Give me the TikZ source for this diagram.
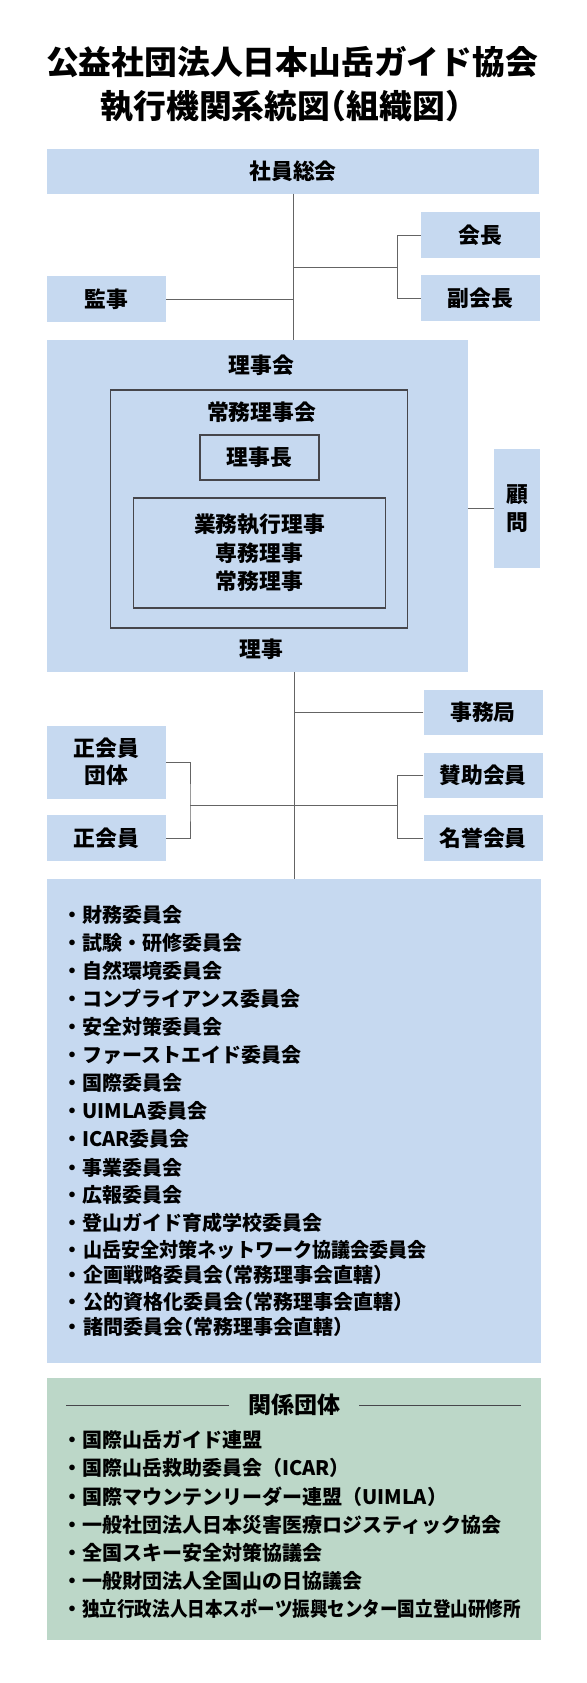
\documentclass[tikz,border=0pt]{standalone}
\usepackage{fontspec}
\usepackage{graphicx}
\setmainfont{Noto Sans CJK JP}
\definecolor{boxblue}{RGB}{198,217,240}
\definecolor{boxgreen}{RGB}{188,215,200}
\definecolor{linegray}{RGB}{100,100,100}
\definecolor{framegray}{RGB}{70,70,75}
\newcommand\myhalt[1]{{\addfontfeature{RawFeature=+halt}#1}}
\newcommand\bulw{・\kern1pt}
\tikzset{
  titletext/.style={inner sep=0pt, font=\fontsize{32.8}{38}\selectfont\bfseries},
  bbox/.style={fill=boxblue, inner sep=0pt, align=center, font=\fontsize{21.8}{28}\selectfont\bfseries},
  gbox/.style={fill=boxgreen, inner sep=0pt},
  framebox/.style={draw=framegray, line width=1.2pt, inner sep=0pt},
  lbl/.style={inner sep=0pt, align=center, font=\fontsize{21.8}{28.5}\selectfont\bfseries},
  conn/.style={draw=linegray, line width=1pt},
  rule/.style={draw=framegray, line width=1pt},
  item/.style={anchor=west, inner sep=0pt, font=\fontsize{20}{22}\selectfont\bfseries},
}
\begin{document}
\begin{tikzpicture}[x=1pt,y=-1pt]
\useasboundingbox[fill=white] (0,0) rectangle (586,1683);

% title
\node[titletext] (t1) at (292,62) {公益社団法人日本山岳ガイド協会};
\node[titletext] (t2) at (281,106) {執行機関系統図\myhalt{（}組織図\myhalt{）}};

% top boxes
\node[bbox, minimum width=492, minimum height=45] (shain) at (293,171) {社員総会};
\node[bbox, minimum width=119, minimum height=46] (kaicho) at (480.5,235) {会長};
\node[bbox, minimum width=119, minimum height=46] (fuku) at (480.5,298) {副会長};
\node[bbox, minimum width=119, minimum height=46] (kanji) at (106.5,299) {監事};

% board
\node[bbox, minimum width=421, minimum height=332] (rijikai) at (257.5,506) {};
\node[lbl] (rijikailbl) at (261.5,365) {理事会};
\node[framebox, minimum width=297.5, minimum height=238] (jomu) at (259,509) {};
\node[lbl] (jomulbl) at (261.5,412) {常務理事会};
\node[framebox, lbl, draw=framegray, minimum width=119, minimum height=45] (rijicho) at (259.5,457.5) {理事長};
\node[framebox, lbl, draw=framegray, minimum width=251.5, minimum height=110] (exec) at (259.5,553) {業務執行理事\\専務理事\\常務理事};
\node[lbl] (rijilbl) at (261.5,649) {理事};
\node[bbox, minimum width=46, minimum height=119] (komon) at (517,508.5) {顧\\問};

% lower boxes
\node[bbox, minimum width=119, minimum height=45] (jimu) at (483,712.5) {事務局};
\node[bbox, minimum width=119, minimum height=73, font=\fontsize{21.8}{27}\selectfont\bfseries] (dantai) at (106.5,762) {正会員\\団体};
\node[bbox, minimum width=119, minimum height=46] (seikai) at (106.5,838) {正会員};
\node[bbox, minimum width=119, minimum height=45] (sanjo) at (483,775.5) {賛助会員};
\node[bbox, minimum width=119, minimum height=46] (meiyo) at (483,838) {名誉会員};

% committees
\node[bbox, minimum width=494, minimum height=484] (comm) at (294,1121) {};
\node[item] (c1) at (62,915) {・財務委員会};
\node[item] (c2) at (62,942.7) {・試験・研修委員会};
\node[item] (c3) at (62,970.7) {・自然環境委員会};
\node[item] (c4) at (62,998.3) {・コンプライアンス委員会};
\node[item] (c5) at (62,1026.7) {・安全対策委員会};
\node[item] (c6) at (62,1055) {・ファーストエイド委員会};
\node[item] (c7) at (62,1083.3) {・国際委員会};
\node[item] (c8) at (62,1111) {・UIMLA委員会};
\node[item] (c9) at (62,1139.3) {・ICAR委員会};
\node[item] (c10) at (62,1167.7) {・事業委員会};
\node[item] (c11) at (62,1195) {・広報委員会};
\node[item] (c12) at (62,1223.3) {・登山ガイド育成学校委員会};
\node[item] (c13) at (62,1250) {\bulw\scalebox{0.955}[1]{山岳安全対策ネットワーク協議会委員会}};
\node[item] (c14) at (62,1275) {\bulw 企画戦略委員会\myhalt{（}常務理事会直轄\myhalt{）}};
\node[item] (c15) at (62,1301.7) {\bulw 公的資格化委員会\myhalt{（}常務理事会直轄\myhalt{）}};
\node[item] (c16) at (62,1326.7) {\bulw 諸問委員会\myhalt{（}常務理事会直轄\myhalt{）}};

% related organisations
\node[gbox, minimum width=494, minimum height=262] (rel) at (294,1509) {};
\node[lbl, font=\fontsize{23}{26}\selectfont\bfseries] (hdr) at (294,1405) {関係団体};
\coordinate (gl) at (66,1405);
\coordinate (gr) at (521,1405);
\draw[rule] (gl) -- ([xshift=-19pt]hdr.west);
\draw[rule] ([xshift=19pt]hdr.east) -- (gr);
\node[item] (r1) at (62,1440) {・国際山岳ガイド連盟};
\node[item] (r2) at (62,1468.3) {・国際山岳救助委員会（ICAR）};
\node[item] (r3) at (62,1496.7) {・国際マウンテンリーダー連盟（UIMLA）};
\node[item] (r4) at (62,1525) {・一般社団法人日本災害医療ロジスティック協会};
\node[item] (r5) at (62,1552.7) {・全国スキー安全対策協議会};
\node[item] (r6) at (62,1581) {・一般財団法人全国山の日協議会};
\node[item] (r7) at (62,1608.3) {・\scalebox{0.878}[1]{独立行政法人日本スポーツ振興センター国立登山研修所}};

% connectors
\coordinate (bx) at (397.5,267);
\coordinate (lb) at (190,805);
\coordinate (rb) at (397.5,805);
\draw[conn] (shain.south) -- (shain.south |- rijikai.north);
\draw[conn] (shain.south |- bx) -- (bx);
\draw[conn] (kaicho.west) -| (bx) |- (fuku.west);
\draw[conn] (kanji.east) -- (kanji.east -| shain.south);
\draw[conn] (komon.west) -- (komon.west -| rijikai.east);
\draw[conn] (comm.north |- rijikai.south) -- (comm.north);
\draw[conn] (jimu.west) -- (jimu.west -| comm.north);
\draw[conn] (dantai.east) -| (lb) |- (seikai.east);
\draw[conn] (lb) -- (rb);
\draw[conn] (sanjo.west) -| (rb) |- (meiyo.west);
\end{tikzpicture}
\end{document}
